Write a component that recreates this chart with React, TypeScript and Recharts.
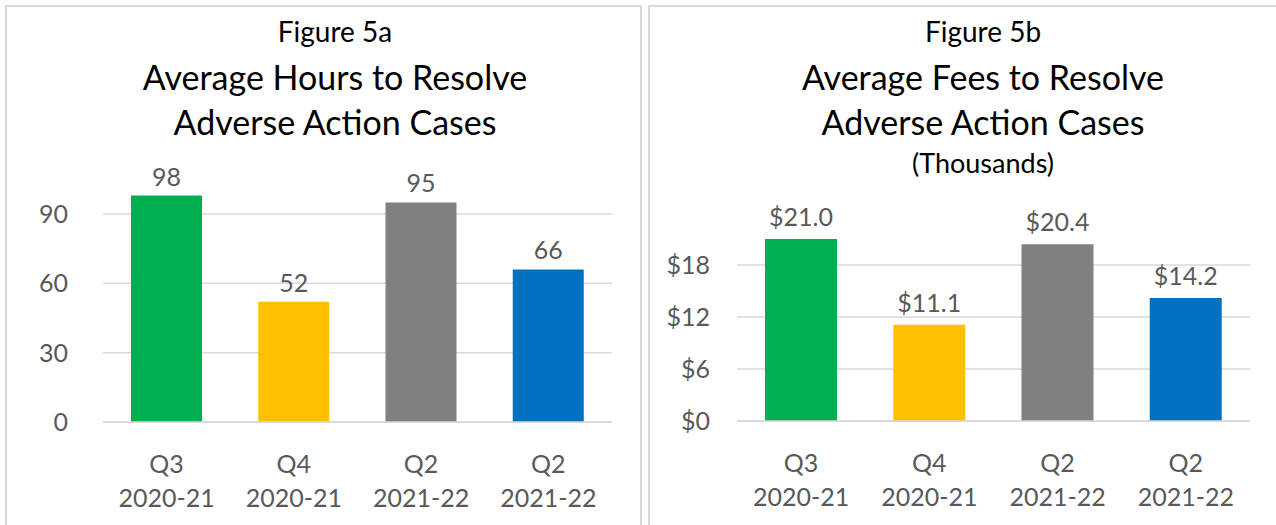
import { BarChart, Bar, XAxis, YAxis, CartesianGrid, Cell, LabelList } from 'recharts'

const quarters = ['Q3', 'Q4', 'Q2', 'Q2']
const years = ['2020-21', '2020-21', '2021-22', '2021-22']
const hours = [98, 52, 95, 66]
const fees = [21.0, 11.1, 20.4, 14.2]
const hoursTicks = [0, 30, 60, 90]
const feesTicks = [0, 6, 12, 18]
const barColors = ['#00B050', '#FFC000', '#808080', '#0070C0']

const FONT = 'Lato, "Open Sans", sans-serif'
const GREY = '#595959'

const hoursData = quarters.map((q, i) => ({ key: `${q} ${years[i]}`, q, yr: years[i], value: hours[i] }))
const feesData = quarters.map((q, i) => ({ key: `${q} ${years[i]}`, q, yr: years[i], value: fees[i] }))

// two-line category label: quarter on top, fiscal year below
function CategoryTick(props: any) {
  const { x, y, index } = props
  return (
    <g>
      <text x={x} y={y + 33} textAnchor="middle" dominantBaseline="central" fill={GREY} fontSize={25} fontFamily={FONT}>
        {quarters[index]}
      </text>
      <text x={x} y={y + 67} textAnchor="middle" dominantBaseline="central" fill={GREY} fontSize={25} fontFamily={FONT}>
        {years[index]}
      </text>
    </g>
  )
}

function TitleLine({ cx, cy, size, text }: { cx: number; cy: number; size: number; text: string }) {
  return (
    <div
      style={{
        position: 'absolute',
        left: cx - 300,
        top: cy - size * 0.6,
        width: 600,
        height: size * 1.2,
        lineHeight: `${size * 1.2}px`,
        textAlign: 'center',
        fontSize: size,
        fontFamily: FONT,
        color: '#000',
        whiteSpace: 'nowrap',
      }}
    >
      {text}
    </div>
  )
}

function panelBorder(left: number, width: number) {
  return (
    <div
      style={{
        position: 'absolute',
        left,
        top: 5,
        width,
        height: 560,
        border: '2px solid #d9d9d9',
        boxSizing: 'border-box',
      }}
    />
  )
}

export default function App() {
  return (
    <div style={{ position: 'relative', width: 1276, height: 525, overflow: 'hidden', background: '#fff' }}>
      <style>{'body{margin:0}'}</style>
      {panelBorder(5, 637)}
      {panelBorder(648, 640)}

      <div style={{ position: 'absolute', left: 0, top: 0 }}>
        <BarChart
          width={640}
          height={525}
          data={hoursData}
          margin={{ top: 422 - 100 * (208 / 90), right: 28, bottom: 0, left: 43 }}
        >
          <CartesianGrid vertical={false} stroke="#d9d9d9" strokeWidth={1.5} syncWithTicks />
          <XAxis
            dataKey="key"
            height={103}
            tick={<CategoryTick />}
            tickLine={false}
            axisLine={{ stroke: '#d9d9d9', strokeWidth: 1.5 }}
            interval={0}
          />
          <YAxis
            width={60}
            domain={[0, 100]}
            ticks={hoursTicks}
            tickLine={false}
            axisLine={false}
            tickSize={0}
            tickMargin={35}
            tick={{ fill: GREY, fontSize: 25, fontFamily: FONT }}
          />
          <Bar dataKey="value" barSize={71} isAnimationActive={false}>
            {hoursData.map((d, i) => (
              <Cell key={d.key} fill={barColors[i]} />
            ))}
            <LabelList dataKey="value" position="top" offset={10} fill={GREY} fontSize={25} fontFamily={FONT} />
          </Bar>
        </BarChart>
      </div>

      <div style={{ position: 'absolute', left: 640, top: 0 }}>
        <BarChart
          width={636}
          height={525}
          data={feesData}
          margin={{ top: 421 - 22 * (156 / 18), right: 26, bottom: 0, left: 37 }}
        >
          <CartesianGrid vertical={false} stroke="#d9d9d9" strokeWidth={1.5} syncWithTicks />
          <XAxis
            dataKey="key"
            height={104}
            tick={<CategoryTick />}
            tickLine={false}
            axisLine={{ stroke: '#d9d9d9', strokeWidth: 1.5 }}
            interval={0}
          />
          <YAxis
            width={60}
            domain={[0, 22]}
            ticks={feesTicks}
            tickLine={false}
            axisLine={false}
            tickSize={0}
            tickMargin={27}
            tickFormatter={(v: number) => `$${v}`}
            tick={{ fill: GREY, fontSize: 25, fontFamily: FONT }}
          />
          <Bar dataKey="value" barSize={72} isAnimationActive={false}>
            {feesData.map((d, i) => (
              <Cell key={d.key} fill={barColors[i]} />
            ))}
            <LabelList
              dataKey="value"
              position="top"
              offset={13}
              fill={GREY}
              fontSize={25}
              fontFamily={FONT}
              formatter={(v: any) => `$${Number(v).toFixed(1)}`}
            />
          </Bar>
        </BarChart>
      </div>

      <TitleLine cx={335} cy={32} size={28} text="Figure 5a" />
      <TitleLine cx={335} cy={77} size={34} text="Average Hours to Resolve" />
      <TitleLine cx={335} cy={122} size={34} text="Adverse Action Cases" />

      <TitleLine cx={983} cy={32} size={28} text="Figure 5b" />
      <TitleLine cx={983} cy={77} size={34} text="Average Fees to Resolve" />
      <TitleLine cx={983} cy={122} size={34} text="Adverse Action Cases" />
      <TitleLine cx={983} cy={163} size={27} text="(Thousands)" />
    </div>
  )
}
